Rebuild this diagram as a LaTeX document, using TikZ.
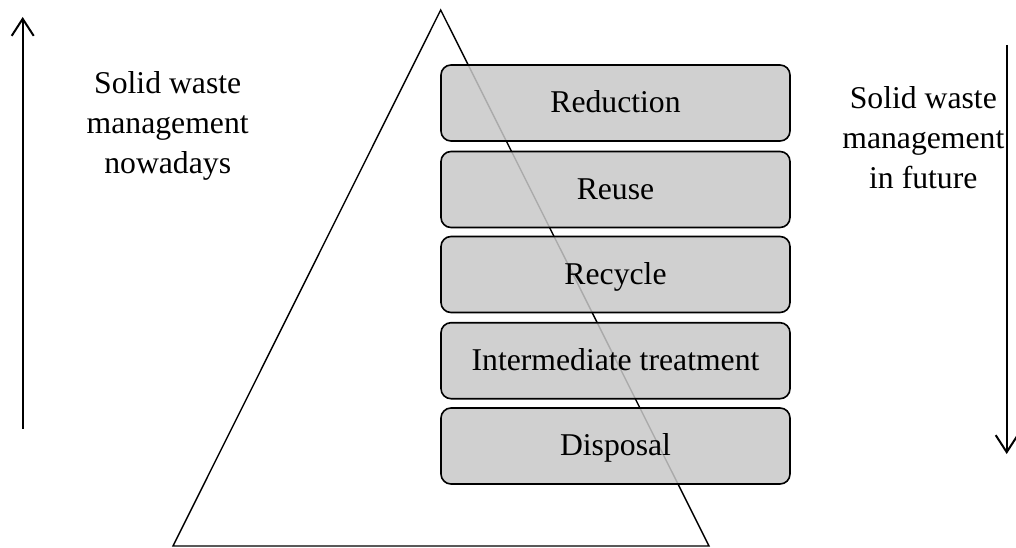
\documentclass[tikz,border=0pt]{standalone}
\usepackage{fontspec}
\setmainfont{Liberation Serif}
\usetikzlibrary{arrows.meta}
\begin{document}
\begin{tikzpicture}[x=1pt,y=-1pt,
  txt/.style={font=\fontsize{31.7pt}{40pt}\selectfont, inner sep=0pt},
  stepbox/.style={txt, draw=black, line width=1.6pt, rounded corners=10pt,
    fill={rgb,255:red,200;green,200;blue,200}, fill opacity=0.85, text opacity=1,
    minimum width=349pt, minimum height=76pt, text height=27pt, text depth=8pt},
  bigarrow/.style={line width=2pt, -{Straight Barb[length=17pt,width=22pt,line width=2pt]}}
]
\useasboundingbox (0,0) rectangle (1016,548);
% pyramid
\coordinate (apex) at (440.7,10);
\coordinate (bl) at (173,546);
\coordinate (br) at (709,546);
\draw[line width=1.4pt, line join=miter] (apex) -- (bl) -- (br) -- cycle;
% boxes
\node[stepbox] (red) at (615.5,103) {Reduction};
\node[stepbox] (reu) at (615.5,189.5) {Reuse};
\node[stepbox] (rec) at (615.5,274.5) {Recycle};
\node[stepbox] (int) at (615.5,360.7) {Intermediate treatment};
\node[stepbox] (dis) at (615.5,446) {Disposal};
% side arrows
\coordinate (la0) at (22.7,428.5);
\coordinate (la1) at (22.7,17);
\draw[bigarrow] (la0) -- (la1);
\coordinate (ra0) at (1006.7,45);
\coordinate (ra1) at (1006.7,454);
\draw[bigarrow] (ra0) -- (ra1);
% texts
\node[txt, align=center, anchor=north] (lt) at (167.7,71) {Solid waste\\management\\nowadays};
\node[txt, align=center, anchor=north] (rt) at (923.3,86.6) {Solid waste\\management\\in future};
\end{tikzpicture}
\end{document}
